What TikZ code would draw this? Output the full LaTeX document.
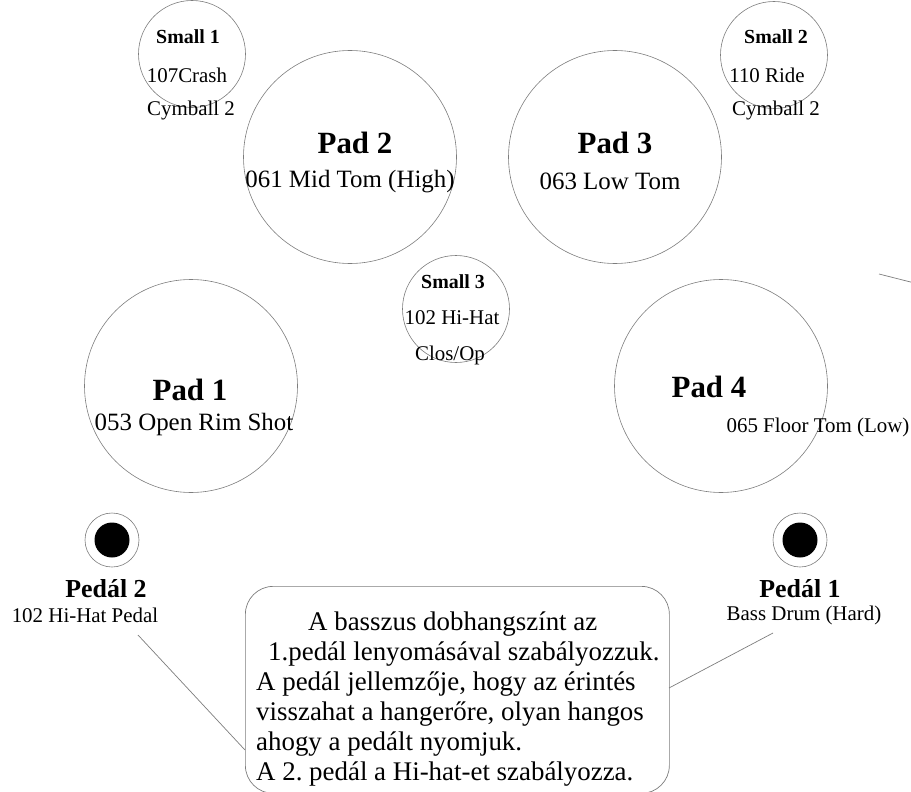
\documentclass[tikz,border=0pt]{standalone}
\usepackage{fontspec}
\setmainfont{Liberation Serif}
\definecolor{linegray}{RGB}{125,125,125}
\newcommand\setfs[1]{\fontsize{#1}{#1}\selectfont}
\frenchspacing
\begin{document}
\begin{tikzpicture}[x=1bp,y=-1bp,
  rim/.style={draw=linegray, line width=0.6bp, circle, inner sep=0pt},
  lbl/.style={inner sep=0pt, anchor=center},
  smallttl/.style={lbl, font=\setfs{20}\bfseries},
  smalltxt/.style={lbl, font=\setfs{21}},
  padttl/.style={lbl, font=\setfs{31}\bfseries},
  padtxt/.style={lbl, font=\setfs{25}},
  pedttl/.style={lbl, font=\setfs{26}\bfseries},
  pedtxt/.style={lbl, font=\setfs{21}},
  conn/.style={draw=linegray, line width=0.7bp}]
\useasboundingbox (0,0) rectangle (911,792);
\clip (0,0) rectangle (911,792);

% small cymbals
\node[rim, minimum size=107bp] (s1) at (192,54) {};
\node[smallttl] (s1a) at (188,37) {Small 1};
\node[smalltxt] (s1b) at (187,75) {107Crash};
\node[smalltxt] (s1c) at (191,110) {Cymball 2};

\node[rim, minimum size=107bp] (s2) at (774,55) {};
\node[smallttl] (s2a) at (776,37) {Small 2};
\node[smalltxt] (s2b) at (767,75) {110 Ride};
\node[smalltxt] (s2c) at (776,110) {Cymball 2};

\node[rim, minimum size=107bp] (s3) at (456,309) {};
\node[smallttl] (s3a) at (453,282) {Small 3};
\node[smalltxt] (s3b) at (452,318) {102 Hi-Hat};
\node[smalltxt] (s3c) at (450,355) {Clos/Op};

% pads
\node[rim, minimum size=213bp] (p2) at (350,157) {};
\node[padttl] (p2a) at (355,143) {Pad 2};
\node[padtxt] (p2b) at (350,182) {061 Mid Tom (High)};

\node[rim, minimum size=213bp] (p3) at (615,157) {};
\node[padttl] (p3a) at (615,143) {Pad 3};
\node[padtxt] (p3b) at (610,181) {063 Low Tom};

\node[rim, minimum size=213bp] (p1) at (191,386) {};
\node[padttl] (p1a) at (190,390) {Pad 1};
\node[padtxt] (p1b) at (194,425) {053 Open Rim Shot};

\node[rim, minimum size=213bp] (p4) at (721,386) {};
\node[padttl] (p4a) at (709,387) {Pad 4};
\node[lbl, font=\setfs{21}] (p4b) at (818,427) {065 Floor Tom (Low)};

% pedals
\node[rim, minimum size=54bp] (d2) at (112,540) {};
\node[circle, fill=black, inner sep=0pt, minimum size=35bp] (d2i) at (d2) {};
\node[pedttl] (d2a) at (106,589) {Pedál 2};
\node[pedtxt] (d2b) at (85,615) {102 Hi-Hat Pedal};

\node[rim, minimum size=54bp] (d1) at (800,540) {};
\node[circle, fill=black, inner sep=0pt, minimum size=35bp] (d1i) at (d1) {};
\node[pedttl] (d1a) at (800,589) {Pedál 1};
\node[pedtxt] (d1b) at (804,615) {Bass Drum (Hard)};

% callout box
\node[draw=linegray, line width=0.7bp, rounded corners=28bp, minimum width=424bp,
      minimum height=207bp, anchor=north west, inner sep=0pt] (box) at (245,586) {};
\node[inner sep=0pt, anchor=north west, align=left,
      font={\fontsize{27}{30}\selectfont}] (boxtxt) at (256,612)
  {\hspace*{52bp}A basszus dobhangszínt az\\
   \hspace*{12bp}1.pedál lenyomásával szabályozzuk.\\
   A pedál jellemzője, hogy az érintés\\
   visszahat a hangerőre, olyan hangos\\
   ahogy a pedált nyomjuk.\\
   A 2. pedál a Hi-hat-et szabályozza.};

% connectors
\coordinate (l2a) at (138,635);
\coordinate (l2b) at (245,750);
\draw[conn] (l2a) -- (l2b);
\coordinate (l1a) at (773,633);
\coordinate (l1b) at (669,688);
\draw[conn] (l1a) -- (l1b);
\coordinate (st1) at (879,274);
\coordinate (st2) at (950,292);
\draw[conn] (st1) -- (st2);
\end{tikzpicture}
\end{document}
